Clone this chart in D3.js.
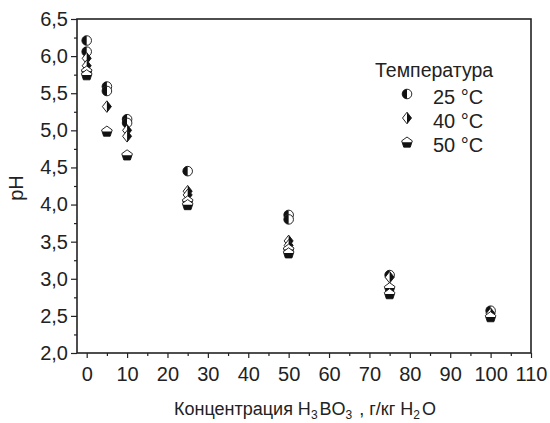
<!DOCTYPE html>
<html>
<head>
<meta charset="utf-8">
<script src="https://cdn.jsdelivr.net/npm/d3@7"></script>
<style>
  html, body { margin: 0; padding: 0; background: #fff; }
  svg { display: block; font-family: "Liberation Sans", Arial, sans-serif; }
</style>
</head>
<body>
<svg id="chart" width="550" height="423"></svg>
<script>
// Boric acid concentration (g/kg H2O) and measured pH, replicate points per temperature
const conc25 = [0, 0, 5, 5, 10, 10, 25, 50, 50, 75, 100];
const ph25   = [6.21, 6.06, 5.59, 5.53, 5.15, 5.10, 4.45, 3.86, 3.80, 3.05, 2.57];
const conc40 = [0, 0, 5, 10, 10, 25, 25, 50, 50, 75, 100];
const ph40   = [5.97, 5.87, 5.32, 5.00, 4.92, 4.18, 4.13, 3.51, 3.45, 3.02, 2.53];
const conc50 = [0, 0, 5, 10, 25, 25, 50, 50, 75, 75, 100];
const ph50   = [5.80, 5.75, 4.99, 4.67, 4.05, 4.00, 3.40, 3.35, 2.88, 2.80, 2.49];

const seriesNames = ["25 °C", "40 °C", "50 °C"];
const legendTitle = "Температура";
const xTicks = [0, 10, 20, 30, 40, 50, 60, 70, 80, 90, 100, 110];
const yTicks = [2.0, 2.5, 3.0, 3.5, 4.0, 4.5, 5.0, 5.5, 6.0, 6.5];

const svg = d3.select("#chart");
const plotL = 77, plotR = 531, plotT = 19, plotB = 353;

const x = d3.scaleLinear().domain([-2.4, 110]).range([plotL, plotR]);
const y = d3.scaleLinear().domain([2.0, 6.5]).range([plotB, plotT]);

// Clip regions for half-filled markers (marker-local coordinates)
const defs = svg.append("defs");
defs.append("clipPath").attr("id", "clipLeft")
  .append("rect").attr("x", -10).attr("y", -10).attr("width", 10).attr("height", 20);
defs.append("clipPath").attr("id", "clipRight")
  .append("rect").attr("x", 0).attr("y", -10).attr("width", 10).attr("height", 20);
defs.append("clipPath").attr("id", "clipBottom")
  .append("rect").attr("x", -10).attr("y", 0.3).attr("width", 20).attr("height", 10);

// Axes
const fmt = d => d3.format(".1f")(d).replace(".", ",");
const tickFont = 20;

const xAxis = svg.append("g").attr("transform", `translate(0,${plotB})`)
  .call(d3.axisBottom(x).tickValues(xTicks).tickSize(5).tickPadding(9).tickFormat(d3.format("d")));
const xMinor = svg.append("g").attr("transform", `translate(0,${plotB})`)
  .call(d3.axisBottom(x).tickValues(d3.range(5, 110, 10)).tickSize(3).tickFormat(""));

const yAxis = svg.append("g").attr("transform", `translate(${plotL},0)`)
  .call(d3.axisLeft(y).tickValues(yTicks).tickSize(6).tickPadding(3).tickFormat(fmt));
const yMinor = svg.append("g").attr("transform", `translate(${plotL},0)`)
  .call(d3.axisLeft(y).tickValues(d3.range(2.25, 6.5, 0.5)).tickSize(3).tickFormat(""));

[xAxis, xMinor, yAxis, yMinor].forEach(g => {
  g.select(".domain").remove();
  g.selectAll("line").attr("stroke", "#222").attr("stroke-width", 1.2);
  g.selectAll("text").attr("font-size", tickFont).attr("fill", "#222")
    .attr("font-family", "Liberation Sans, Arial, sans-serif");
});

// Frame
svg.append("rect").attr("x", plotL).attr("y", plotT)
  .attr("width", plotR - plotL).attr("height", plotB - plotT)
  .attr("fill", "none").attr("stroke", "#222").attr("stroke-width", 1.6);

// Marker shapes
const R = 4.8;
const circlePath = d3.symbol().type(d3.symbolCircle).size(Math.PI * R * R)();
const diamondPath = `M0,${-5.8}L4.5,0L0,5.8L-4.5,0Z`;
const pentPath = (() => {
  const r = 5.6;
  const pts = d3.range(5).map(i => {
    const a = -Math.PI / 2 + i * 2 * Math.PI / 5;
    return [r * Math.cos(a), r * Math.sin(a) + 0.6];
  });
  return "M" + pts.map(p => p.join(",")).join("L") + "Z";
})();

const shapes = [
  { path: circlePath, clip: "clipLeft" },
  { path: diamondPath, clip: "clipRight" },
  { path: pentPath, clip: "clipBottom" }
];

function drawMarker(g, s) {
  g.append("path").attr("d", s.path).attr("fill", "#fff");
  g.append("path").attr("d", s.path).attr("fill", "#111").attr("clip-path", `url(#${s.clip})`);
  g.append("path").attr("d", s.path).attr("fill", "none").attr("stroke", "#111").attr("stroke-width", 0.9);
}

const series = [
  { xs: conc25, ys: ph25 },
  { xs: conc40, ys: ph40 },
  { xs: conc50, ys: ph50 }
];

series.forEach((ser, i) => {
  const pts = ser.xs.map((c, k) => ({ c, p: ser.ys[k] }));
  svg.append("g").selectAll("g").data(pts).join("g")
    .attr("transform", d => `translate(${x(d.c)},${y(d.p)})`)
    .each(function () { drawMarker(d3.select(this), shapes[i]); });
});

// Legend
const leg = svg.append("g");
leg.append("text").attr("x", 375).attr("y", 77).attr("font-size", 19.5).attr("fill", "#222")
  .text(legendTitle);
seriesNames.forEach((name, i) => {
  const base = 104 + i * 24;
  const g = leg.append("g").attr("transform", `translate(407,${base - 10})`);
  drawMarker(g, shapes[i]);
  leg.append("text").attr("x", 433).attr("y", base).attr("font-size", 20).attr("fill", "#222")
    .text(name);
});

// Axis titles
const xt = svg.append("text").attr("x", 305).attr("y", 415).attr("text-anchor", "middle")
  .attr("font-size", 18).attr("fill", "#222");
xt.append("tspan").text("Концентрация H");
xt.append("tspan").attr("font-size", 12).attr("dy", 4).text("3");
xt.append("tspan").attr("dy", -4).attr("dx", 2).text("BO");
xt.append("tspan").attr("font-size", 12).attr("dy", 4).text("3");
xt.append("tspan").attr("dy", -4).attr("dx", 2).text(" , г/кг H");
xt.append("tspan").attr("font-size", 12).attr("dy", 4).text("2");
xt.append("tspan").attr("dy", -4).attr("dx", 2).text("O");

svg.append("text").attr("transform", `translate(23,${(plotT + plotB) / 2 + 2}) rotate(-90)`)
  .attr("text-anchor", "middle").attr("font-size", 20).attr("fill", "#222").text("pH");
</script>
</body>
</html>
